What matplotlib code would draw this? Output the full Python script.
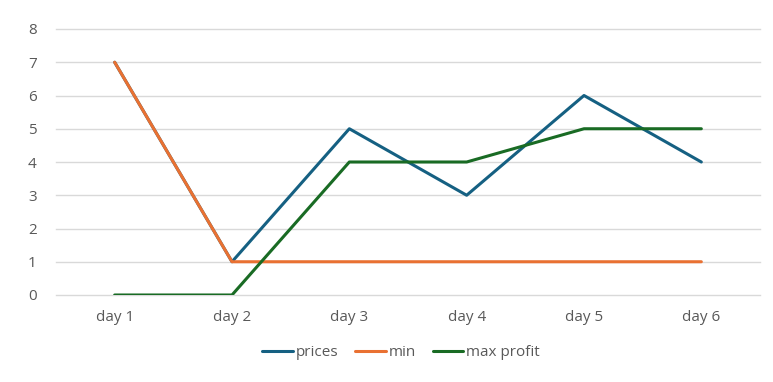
import matplotlib
matplotlib.use("Agg")
import matplotlib.pyplot as plt

categories = ["day 1", "day 2", "day 3", "day 4", "day 5", "day 6"]
prices = [7, 1, 5, 3, 6, 4]
mins = [7, 1, 1, 1, 1, 1]
max_profit = [0, 0, 4, 4, 5, 5]
series_names = ["prices", "min", "max profit"]
colors = ["#156082", "#E97132", "#196B24"]

plt.rcParams['font.family'] = ['Open Sans', 'DejaVu Sans']

fig = plt.figure(figsize=(7.73, 3.82), dpi=100)
ax = fig.add_axes([56/773, 1-295/382, (760-56)/773, (295-29)/382])

x = list(range(len(categories)))
for vals, name, c in zip([prices, mins, max_profit], series_names, colors):
    ax.plot(x, vals, color=c, lw=2.2, label=name, solid_capstyle='round', solid_joinstyle='round')

ax.set_xlim(-0.5, len(categories) - 0.5)
ax.set_ylim(0, 8)
ax.set_yticks(range(0, 9))
ax.set_xticks(x)
ax.set_xticklabels(categories)
ax.grid(axis='y', color='#D9D9D9', lw=1)
for gl in ax.get_ygridlines():
    gl.set_clip_on(False)
ax.set_axisbelow(True)
for s in ax.spines.values():
    s.set_visible(False)
ax.tick_params(axis='both', length=0, colors='#595959', labelsize=11)
ax.tick_params(axis='x', pad=11)
ax.tick_params(axis='y', pad=14)

leg = fig.legend(loc='center', bbox_to_anchor=(401/773, 1-353/382), ncol=3, frameon=False,
                 fontsize=11, handlelength=2.0, columnspacing=1.1, handletextpad=0.2)
for t in leg.get_texts():
    t.set_color('#595959')

fig.savefig("out.png", dpi=100)
